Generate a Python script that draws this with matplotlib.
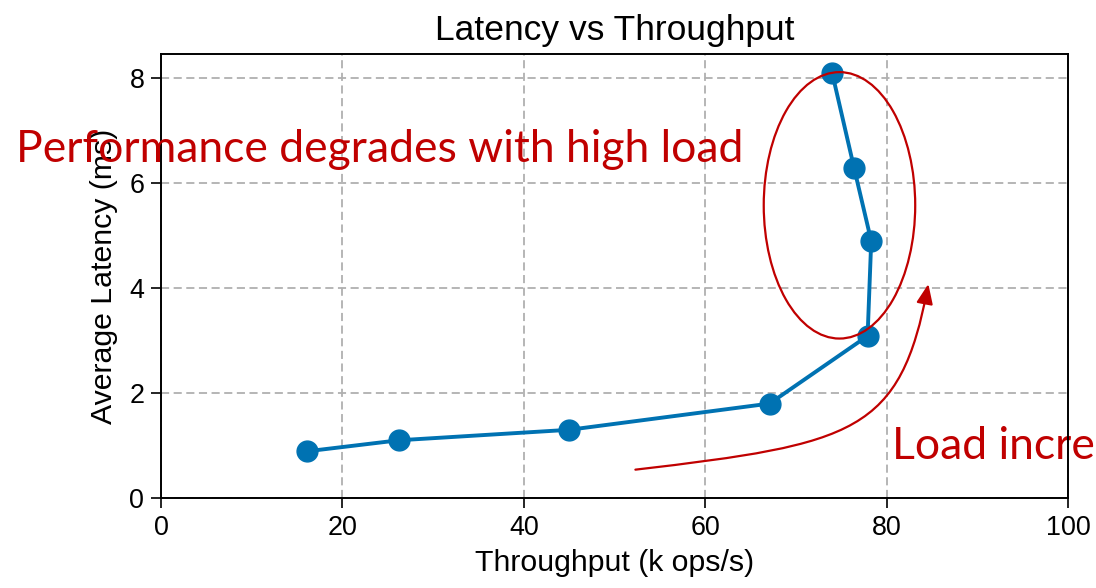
import matplotlib
matplotlib.use('Agg')
import matplotlib.pyplot as plt
from matplotlib.patches import Ellipse, FancyArrowPatch
from matplotlib.path import Path

throughput = [16.1, 26.2, 45.0, 67.1, 77.9, 78.3, 76.4, 74.0]
latency = [0.89, 1.10, 1.30, 1.80, 3.09, 4.90, 6.30, 8.10]

plt.rcParams['font.family'] = ['Liberation Sans', 'DejaVu Sans']

fig = plt.figure(figsize=(10.96, 5.88), dpi=100)
ax = fig.add_axes([0.1469, 0.1531, 0.8276, 0.7546])

ax.plot(throughput, latency, color='#0072B2', linewidth=2.8,
        marker='o', markersize=15, zorder=3)

ax.set_xlim(0, 100)
ax.set_ylim(bottom=0)
ax.set_xticks([0, 20, 40, 60, 80, 100])
ax.set_yticks([0, 2, 4, 6, 8])

ax.set_title('Latency vs Throughput', fontsize=25.5, pad=10)
ax.set_xlabel('Throughput (k ops/s)', fontsize=21.8, labelpad=6)
ax.set_ylabel('Average Latency (ms)', fontsize=21.8, labelpad=8)
ax.tick_params(labelsize=19.4, width=1.2, length=7, pad=5)

ax.grid(True, linestyle='--', color='#b0b0b0', linewidth=1.3, dashes=(4.5, 2.5))
for s in ax.spines.values():
    s.set_linewidth(1.4)

red = '#C00000'

# highlight ellipse around the saturation region
ell = Ellipse((74.8, 5.58), 16.7, 5.08, fill=False, edgecolor=red,
              linewidth=1.6, zorder=4)
ax.add_patch(ell)

ax.text(24.1, 6.41, 'Performance degrades with high load', color=red,
        fontsize=32, family=['Lato', 'DejaVu Sans'],
        ha='center', va='baseline', clip_on=False)

ax.text(80.6, 0.745, 'Load increases', color=red, fontsize=32,
        family=['Lato', 'DejaVu Sans'], ha='left', va='baseline',
        clip_on=False, zorder=2)

# curved arrow showing increasing load
verts = [(52.3, 0.54), (76.5, 1.03), (81.5, 1.24), (84.6, 4.08)]
codes = [Path.MOVETO, Path.CURVE4, Path.CURVE4, Path.CURVE4]
arrow = FancyArrowPatch(path=Path(verts, codes),
                        arrowstyle='-|>,head_length=0.6,head_width=0.25',
                        mutation_scale=20, color=red, linewidth=1.6,
                        transform=ax.transData, zorder=4)
ax.add_patch(arrow)

fig.savefig('out.png', dpi=100)
